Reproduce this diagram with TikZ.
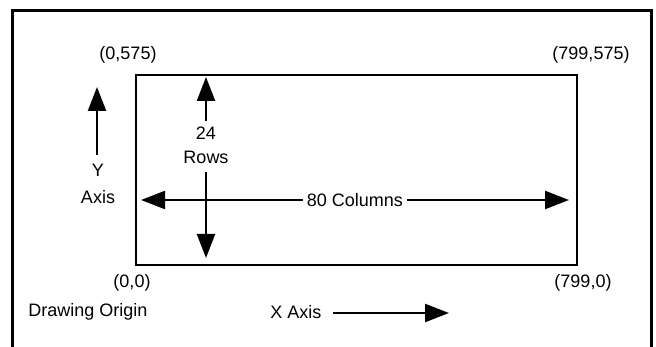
\documentclass[tikz,border=0pt]{standalone}
\usepackage{fontspec}
\setmainfont{Liberation Sans}
\usetikzlibrary{arrows.meta}
\begin{document}
\begin{tikzpicture}[x=1pt,y=-1pt,
  lbl/.style={inner sep=0pt, font=\fontsize{18}{21}\selectfont},
  arr/.style={line width=2.3pt, -{Triangle[length=24pt,width=18pt]}},
  frame/.style={line width=3pt},
  screen/.style={line width=2.5pt}]
\useasboundingbox (0,0) rectangle (656,347);
% outer frame
\draw[frame] (12,349) -- (12,11) -- (651,11) -- (651,349);
% screen rectangle
\draw[screen] (136,75) rectangle (577,265);
% corner labels
\node[lbl] (tl) at (128,55) {(0,575)};
\node[lbl] (tr) at (591,55) {(799,575)};
\node[lbl] (bl) at (132,283) {(0,0)};
\node[lbl] (br) at (583,283) {(799,0)};
% Y axis
\node[lbl] (ylab) at (98,170) {Y};
\node[lbl] (yaxis) at (98,197) {Axis};
\coordinate (ytail) at (97,155);
\coordinate (ytip) at (97,87);
\draw[arr] (ytail) -- (ytip);
% rows
\node[lbl] (n24) at (206,133) {24};
\node[lbl] (rows) at (206,157) {Rows};
\coordinate (rtop) at (206,77);
\coordinate (rbot) at (206,258);
\draw[arr] (n24.north) ++(0,-6) coordinate (rup) -- (rtop);
\draw[arr] (rows.south) ++(0,9) coordinate (rdn) -- (rbot);
% columns
\node[lbl, inner xsep=4pt] (cols) at (355,200) {80 Columns};
\coordinate (cleft) at (141,200);
\coordinate (cright) at (569,200);
\draw[arr] (cols.west) -- (cleft);
\draw[arr] (cols.east) -- (cright);
% bottom
\node[lbl] (origin) at (88,312) {Drawing Origin};
\node[lbl, inner xsep=0pt] (xaxis) at (296,312) {X Axis};
\coordinate (xtip) at (449,313);
\draw[arr] ([xshift=11pt]xaxis.east |- xtip) -- (xtip);
\end{tikzpicture}
\end{document}
